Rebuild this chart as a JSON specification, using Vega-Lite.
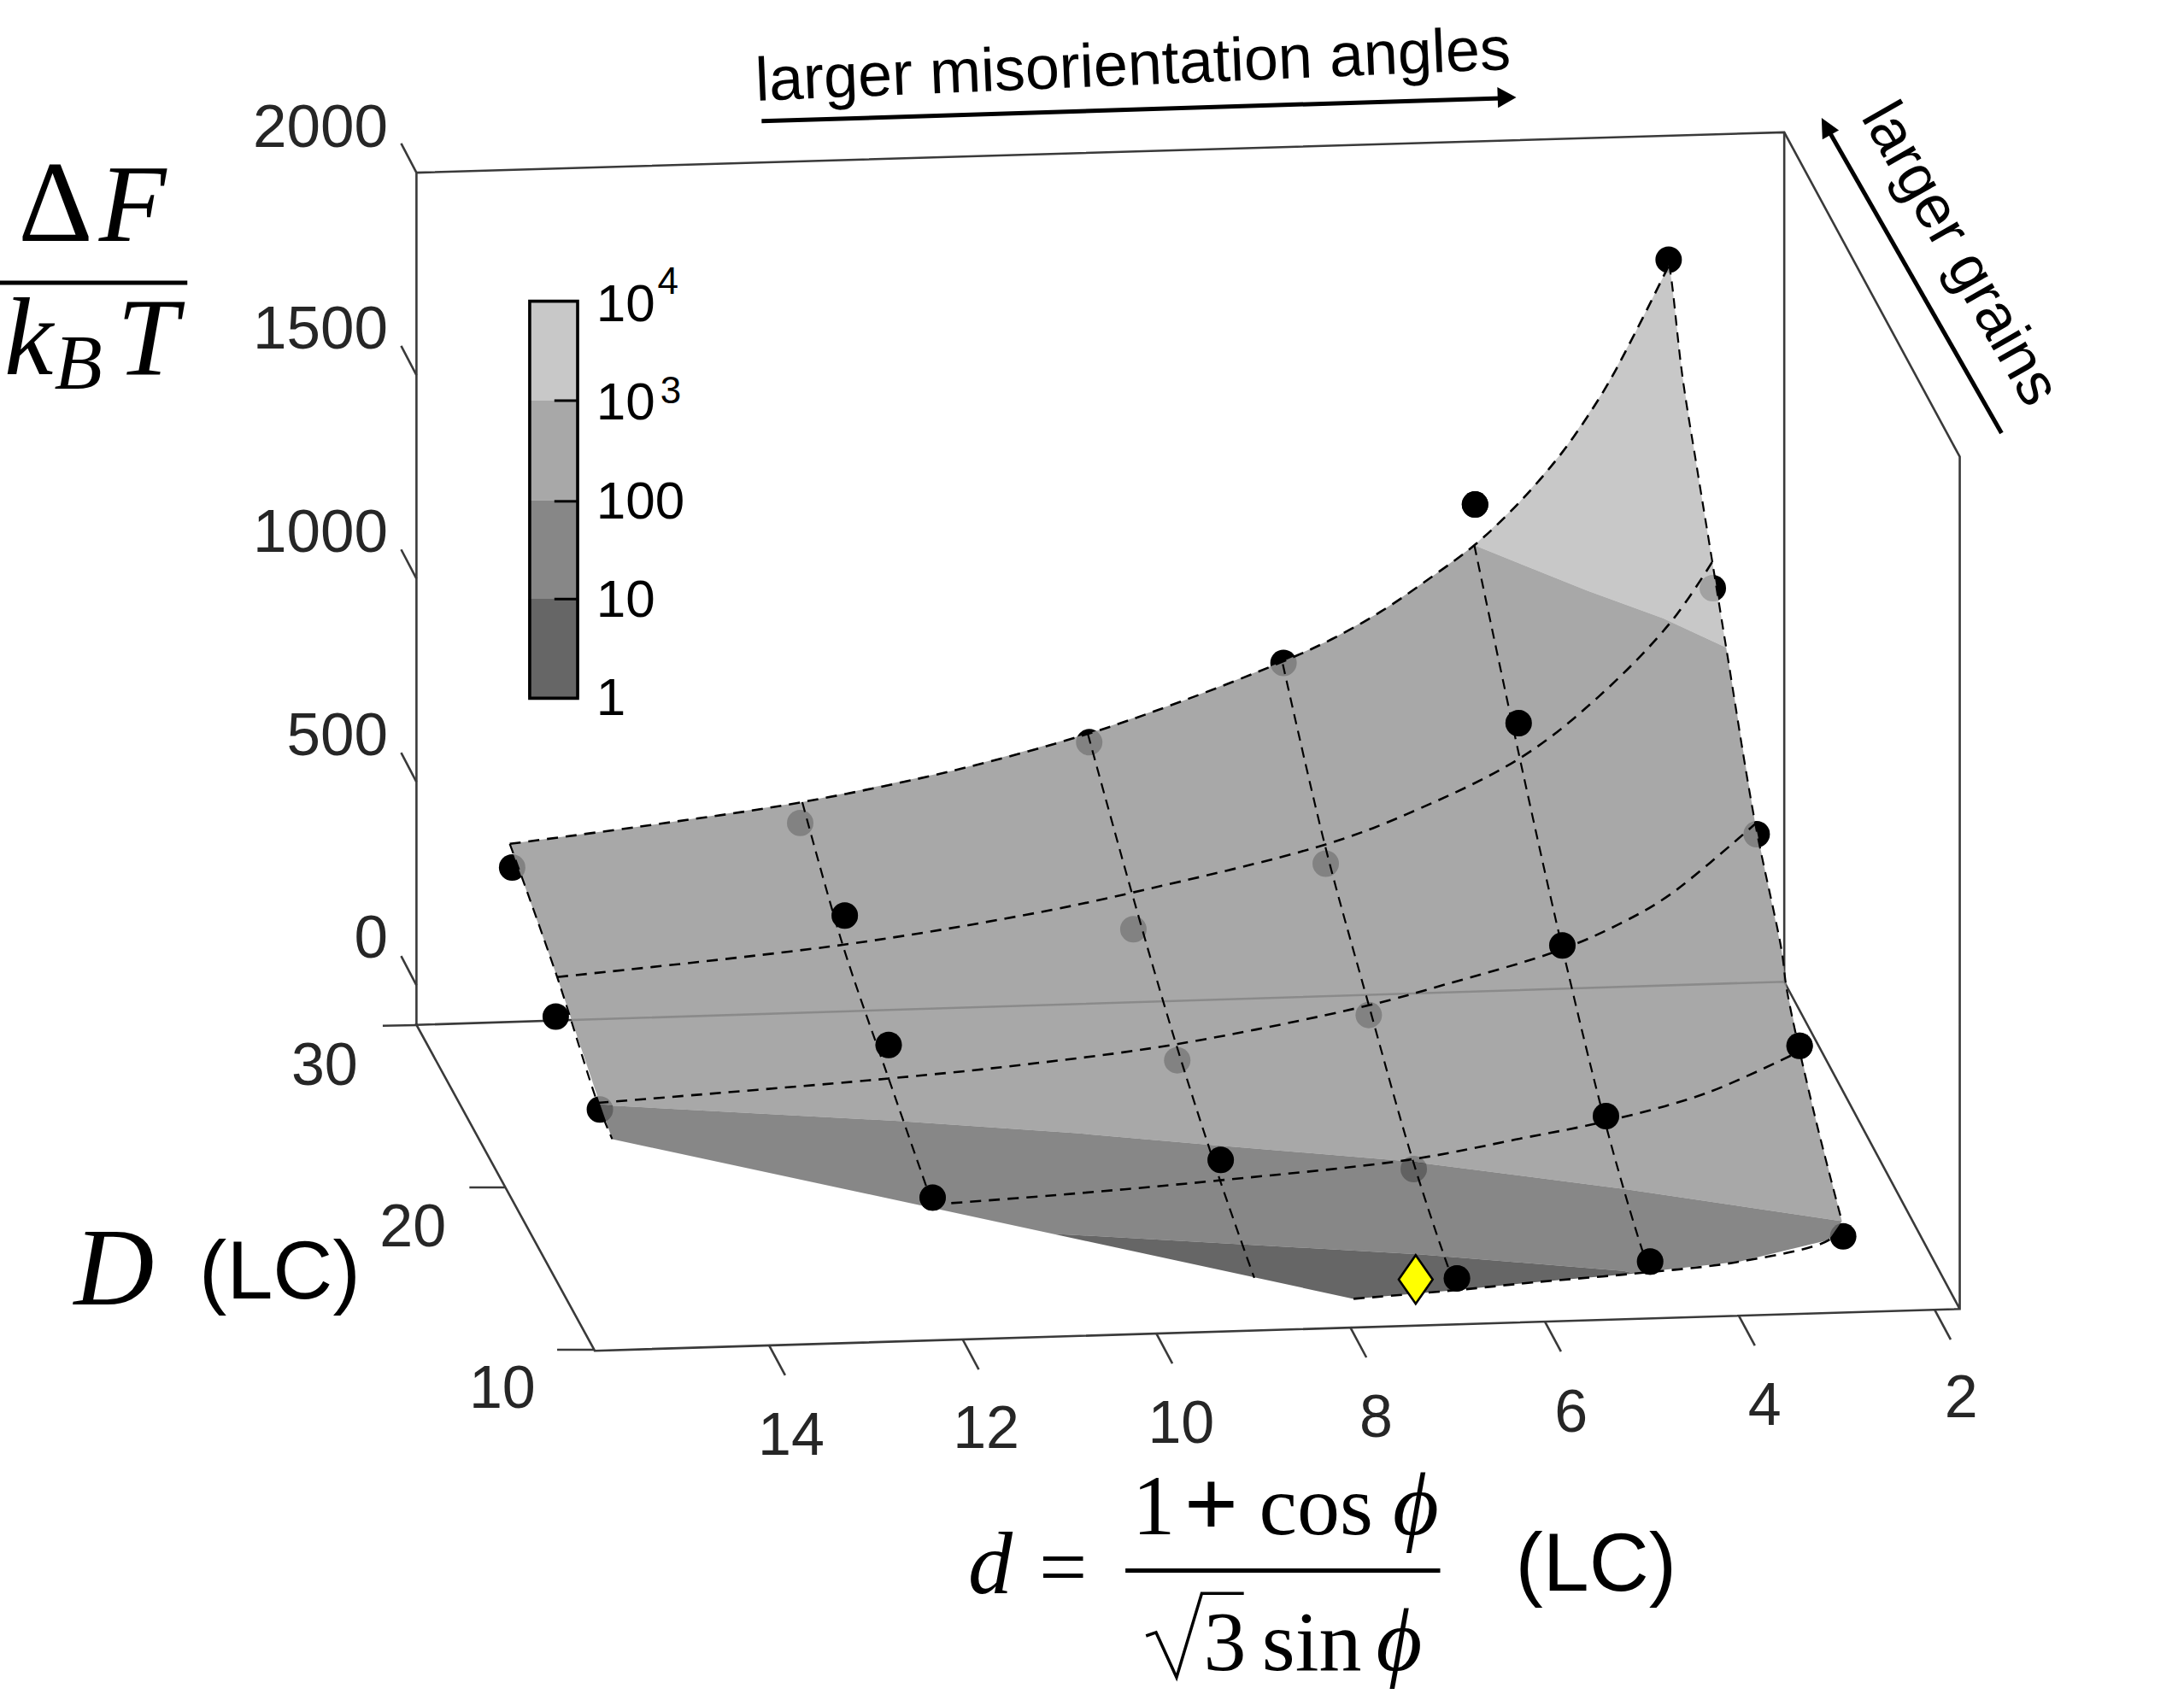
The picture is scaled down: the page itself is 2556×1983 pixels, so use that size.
{
"$schema":"https://vega.github.io/schema/vega-lite/v6.json",
"width":2556,"height":1983,"padding":0,"autosize":{"type":"none"},
"background":"white","config":{"view":{"stroke":null}},
"datasets":{
"axes":[
{"s":"box","i":0,"u":299,"v":736},{"s":"box","i":1,"u":299,"v":124},{"s":"box","i":2,"u":1281,"v":95},{"s":"box","i":3,"u":1407,"v":328},{"s":"box","i":4,"u":1407,"v":940},{"s":"box","i":5,"u":427,"v":970},{"s":"box","i":6,"u":299,"v":736},{"s":"box","i":7,"u":1281,"v":705},{"s":"box","i":8,"u":1407,"v":940},
{"s":"back","i":0,"u":1281,"v":95},{"s":"back","i":1,"u":1281,"v":705},
{"s":"z2000","i":0,"u":288,"v":103},{"s":"z2000","i":1,"u":299,"v":124},
{"s":"z1500","i":0,"u":288,"v":248.4},{"s":"z1500","i":1,"u":299,"v":269.4},
{"s":"z1000","i":0,"u":288,"v":394.6},{"s":"z1000","i":1,"u":299,"v":415.6},
{"s":"z500","i":0,"u":288,"v":540.6},{"s":"z500","i":1,"u":299,"v":561.6},
{"s":"z0","i":0,"u":288,"v":686.5},{"s":"z0","i":1,"u":299,"v":707.5},
{"s":"D30","i":0,"u":274.8,"v":736.6},{"s":"D30","i":1,"u":299.8,"v":736.2},
{"s":"D20","i":0,"u":337,"v":852.7},{"s":"D20","i":1,"u":362.5,"v":852.7},
{"s":"D10","i":0,"u":400,"v":969.3},{"s":"D10","i":1,"u":426.3,"v":969.3},
{"s":"d2","i":0,"u":1388.8,"v":940.2},{"s":"d2","i":1,"u":1400.5,"v":962},
{"s":"d4","i":0,"u":1248.2,"v":944.5},{"s":"d4","i":1,"u":1259.9,"v":966.3},
{"s":"d6","i":0,"u":1109,"v":948.8},{"s":"d6","i":1,"u":1120.7,"v":970.6},
{"s":"d8","i":0,"u":969.3,"v":953},{"s":"d8","i":1,"u":981,"v":974.8},
{"s":"d10","i":0,"u":830,"v":957.3},{"s":"d10","i":1,"u":841.7,"v":979.1},
{"s":"d12","i":0,"u":691,"v":961.6},{"s":"d12","i":1,"u":702.7,"v":983.4},
{"s":"d14","i":0,"u":552,"v":965.8},{"s":"d14","i":1,"u":563.7,"v":987.6}
],
"dots":[
{"u":367.7,"v":623,"side":"below"},{"u":574.5,"v":591,"side":"below"},{"u":782,"v":533,"side":"below"},{"u":921.5,"v":476,"side":"below"},{"u":1059,"v":362.3,"side":"above"},{"u":1198,"v":186.5,"side":"below"},
{"u":399,"v":730,"side":"below"},{"u":606.5,"v":657.5,"side":"above"},{"u":813.7,"v":667.3,"side":"below"},{"u":951.8,"v":620.2,"side":"below"},{"u":1090.3,"v":519.3,"side":"above"},{"u":1229.7,"v":422.4,"side":"below"},
{"u":430.7,"v":796.7,"side":"below"},{"u":638,"v":750.4,"side":"above"},{"u":845.2,"v":761.4,"side":"below"},{"u":982.7,"v":728.9,"side":"below"},{"u":1121.7,"v":679,"side":"above"},{"u":1261.2,"v":599,"side":"below"},
{"u":669.6,"v":860,"side":"above"},{"u":876.4,"v":833,"side":"above"},{"u":1015,"v":839.5,"side":"below"},{"u":1153,"v":801.5,"side":"above"},{"u":1292,"v":751,"side":"above"},
{"u":1046,"v":918,"side":"above"},{"u":1184.7,"v":905.9,"side":"above"},{"u":1323.3,"v":887.9,"side":"below"}
],
"bands":[
{"b":"c8","i":0,"u":1058.5,"v":391.6},{"b":"c8","i":1,"u":1090,"v":361.6},{"b":"c8","i":2,"u":1122,"v":324.3},{"b":"c8","i":3,"u":1151.6,"v":280.4},{"b":"c8","i":4,"u":1173.8,"v":239.3},{"b":"c8","i":5,"u":1194.5,"v":198},{"b":"c8","i":6,"u":1198.4,"v":190},{"b":"c8","i":7,"u":1200.4,"v":203.7},{"b":"c8","i":8,"u":1207.8,"v":269.5},{"b":"c8","i":9,"u":1218.2,"v":335.2},{"b":"c8","i":10,"u":1228.5,"v":398.2},{"b":"c8","i":11,"u":1239.3,"v":465},{"b":"c8","i":12,"u":1194,"v":444},{"b":"c8","i":13,"u":1139.3,"v":424},
{"b":"a8","i":0,"u":366,"v":606},{"b":"a8","i":1,"u":475,"v":591.4},{"b":"a8","i":2,"u":576,"v":576},{"b":"a8","i":3,"u":686,"v":553},{"b":"a8","i":4,"u":781,"v":527},{"b":"a8","i":5,"u":850,"v":503},{"b":"a8","i":6,"u":920,"v":475.5},{"b":"a8","i":7,"u":955.8,"v":459.2},{"b":"a8","i":8,"u":991.4,"v":439.2},{"b":"a8","i":9,"u":1029.8,"v":412.9},{"b":"a8","i":10,"u":1058.5,"v":391.6},{"b":"a8","i":11,"u":1139.3,"v":424},{"b":"a8","i":12,"u":1194,"v":444},{"b":"a8","i":13,"u":1239.3,"v":465},{"b":"a8","i":14,"u":1259.8,"v":589.4},{"b":"a8","i":15,"u":1279,"v":682},{"b":"a8","i":16,"u":1283,"v":711.6},{"b":"a8","i":17,"u":1302,"v":797.5},{"b":"a8","i":18,"u":1322.4,"v":877},{"b":"a8","i":19,"u":1165.7,"v":853.8},{"b":"a8","i":20,"u":1010,"v":833.8},{"b":"a8","i":21,"u":867.7,"v":822},{"b":"a8","i":22,"u":773,"v":813.8},{"b":"a8","i":23,"u":645,"v":805},{"b":"a8","i":24,"u":431,"v":793.5},{"b":"a8","i":25,"u":400,"v":701.6},
{"b":"88","i":0,"u":431,"v":793.5},{"b":"88","i":1,"u":645,"v":805},{"b":"88","i":2,"u":773,"v":813.8},{"b":"88","i":3,"u":867.7,"v":822},{"b":"88","i":4,"u":1010,"v":833.8},{"b":"88","i":5,"u":1165.7,"v":853.8},{"b":"88","i":6,"u":1322.4,"v":877},{"b":"88","i":7,"u":1313,"v":890.5},{"b":"88","i":8,"u":1249,"v":906},{"b":"88","i":9,"u":1184.7,"v":913},{"b":"88","i":10,"u":1173.7,"v":914.5},{"b":"88","i":11,"u":1165.7,"v":912.7},{"b":"88","i":12,"u":1018.3,"v":900.7},{"b":"88","i":13,"u":763.6,"v":886.4},{"b":"88","i":14,"u":757,"v":886.3},{"b":"88","i":15,"u":439.5,"v":818},
{"b":"66","i":0,"u":757,"v":886.3},{"b":"66","i":1,"u":763.6,"v":886.4},{"b":"66","i":2,"u":1018.3,"v":900.7},{"b":"66","i":3,"u":1165.7,"v":912.7},{"b":"66","i":4,"u":1173.7,"v":914.5},{"b":"66","i":5,"u":1100,"v":921},{"b":"66","i":6,"u":1045,"v":926.5},{"b":"66","i":7,"u":971.8,"v":932.7}
],
"mesh":[
{"s":"C1","i":0,"u":366,"v":606},{"s":"C1","i":1,"u":475,"v":591.4},{"s":"C1","i":2,"u":576,"v":576},{"s":"C1","i":3,"u":686,"v":553},{"s":"C1","i":4,"u":781,"v":527},{"s":"C1","i":5,"u":850,"v":503},{"s":"C1","i":6,"u":920,"v":475.5},{"s":"C1","i":7,"u":955.8,"v":459.2},{"s":"C1","i":8,"u":991.4,"v":439.2},{"s":"C1","i":9,"u":1029.8,"v":412.9},{"s":"C1","i":10,"u":1058.5,"v":391.6},{"s":"C1","i":11,"u":1090,"v":361.6},{"s":"C1","i":12,"u":1122,"v":324.3},{"s":"C1","i":13,"u":1151.6,"v":280.4},{"s":"C1","i":14,"u":1173.8,"v":239.3},{"s":"C1","i":15,"u":1194.5,"v":198},{"s":"C1","i":16,"u":1198.4,"v":190},
{"s":"C2","i":0,"u":400,"v":701.6},{"s":"C2","i":1,"u":605,"v":678.5},{"s":"C2","i":2,"u":736.2,"v":657},{"s":"C2","i":3,"u":812.9,"v":641},{"s":"C2","i":4,"u":951.4,"v":606.5},{"s":"C2","i":5,"u":1010.6,"v":584.4},{"s":"C2","i":6,"u":1091.4,"v":544.4},{"s":"C2","i":7,"u":1147.5,"v":500.5},{"s":"C2","i":8,"u":1199.6,"v":446.7},{"s":"C2","i":9,"u":1229.7,"v":402.9},
{"s":"C3","i":0,"u":429,"v":792},{"s":"C3","i":1,"u":638,"v":774.5},{"s":"C3","i":2,"u":736.2,"v":764.4},{"s":"C3","i":3,"u":844.4,"v":749.9},{"s":"C3","i":4,"u":980.8,"v":722.4},{"s":"C3","i":5,"u":1037.5,"v":707},{"s":"C3","i":6,"u":1119.7,"v":682.3},{"s":"C3","i":7,"u":1165.7,"v":662},{"s":"C3","i":8,"u":1199.6,"v":642},{"s":"C3","i":9,"u":1261.2,"v":590.7},
{"s":"C4","i":0,"u":669.6,"v":865},{"s":"C4","i":1,"u":773,"v":857},{"s":"C4","i":2,"u":875.9,"v":847.6},{"s":"C4","i":3,"u":1013.7,"v":832.5},{"s":"C4","i":4,"u":1092.3,"v":817.5},{"s":"C4","i":5,"u":1153.9,"v":805},{"s":"C4","i":6,"u":1225,"v":785},{"s":"C4","i":7,"u":1290,"v":756},
{"s":"C5","i":0,"u":971.8,"v":932.7},{"s":"C5","i":1,"u":1045,"v":926.5},{"s":"C5","i":2,"u":1100,"v":921},{"s":"C5","i":3,"u":1173.7,"v":914.5},{"s":"C5","i":4,"u":1249,"v":906},{"s":"C5","i":5,"u":1313,"v":890.5},{"s":"C5","i":6,"u":1322.4,"v":880},
{"s":"L1","i":0,"u":366,"v":606},{"s":"L1","i":1,"u":400,"v":701.6},{"s":"L1","i":2,"u":429,"v":792},{"s":"L1","i":3,"u":439.5,"v":818},
{"s":"L2","i":0,"u":576,"v":576},{"s":"L2","i":1,"u":605,"v":678.5},{"s":"L2","i":2,"u":638,"v":774.5},{"s":"L2","i":3,"u":669.6,"v":865},
{"s":"L3","i":0,"u":781,"v":527},{"s":"L3","i":1,"u":812.9,"v":642.2},{"s":"L3","i":2,"u":844.4,"v":749.9},{"s":"L3","i":3,"u":875.9,"v":847.6},{"s":"L3","i":4,"u":900.5,"v":917.7},
{"s":"L4","i":0,"u":921,"v":477},{"s":"L4","i":1,"u":951.5,"v":608},{"s":"L4","i":2,"u":980.8,"v":714.9},{"s":"L4","i":3,"u":1013.7,"v":831.3},{"s":"L4","i":4,"u":1038.9,"v":907.7},{"s":"L4","i":5,"u":1046,"v":926},
{"s":"L5","i":0,"u":1058.5,"v":391.6},{"s":"L5","i":1,"u":1090,"v":539.4},{"s":"L5","i":2,"u":1121.5,"v":680},{"s":"L5","i":3,"u":1153.4,"v":809.8},{"s":"L5","i":4,"u":1178.4,"v":895.7},{"s":"L5","i":5,"u":1184.7,"v":913},
{"s":"L6","i":0,"u":1198.4,"v":190},{"s":"L6","i":1,"u":1200.4,"v":203.7},{"s":"L6","i":2,"u":1207.8,"v":269.5},{"s":"L6","i":3,"u":1218.2,"v":335.2},{"s":"L6","i":4,"u":1228.5,"v":398.2},{"s":"L6","i":5,"u":1239.3,"v":465},{"s":"L6","i":6,"u":1259.8,"v":589.4},{"s":"L6","i":7,"u":1279,"v":682},{"s":"L6","i":8,"u":1283,"v":711.6},{"s":"L6","i":9,"u":1302,"v":797.5},{"s":"L6","i":10,"u":1322.4,"v":877}
],
"arrows":[
{"s":"a1","i":0,"u":546.8,"v":87},{"s":"a1","i":1,"u":1078,"v":70.5},
{"s":"a2","i":0,"u":1437,"v":311},{"s":"a2","i":1,"u":1313,"v":94}
],
"heads":[
{"s":"h1","i":0,"u":1088.6,"v":70},{"s":"h1","i":1,"u":1075,"v":62.5},{"s":"h1","i":2,"u":1075.5,"v":77.5},
{"s":"h2","i":0,"u":1307.8,"v":84.6},{"s":"h2","i":1,"u":1320.2,"v":93.6},{"s":"h2","i":2,"u":1308.4,"v":100.2}
],
"bar":[
{"k":"1e3-1e4","u":379.3,"u2":415.7,"v":217.4,"v2":287.7},
{"k":"100-1e3","u":379.3,"u2":415.7,"v":287.7,"v2":359.2},
{"k":"10-100","u":379.3,"u2":415.7,"v":359.2,"v2":430},
{"k":"1-10","u":379.3,"u2":415.7,"v":430,"v2":500.9}
],
"barticks":[
{"s":"t3","i":0,"u":398,"v":287.7},{"s":"t3","i":1,"u":414,"v":287.7},
{"s":"t2","i":0,"u":398,"v":360},{"s":"t2","i":1,"u":414,"v":360},
{"s":"t1","i":0,"u":398,"v":430.2},{"s":"t1","i":1,"u":414,"v":430.2}
],
"radical":[
{"i":0,"u":822.8,"v":1174.8},{"i":1,"u":830,"v":1172.3},{"i":2,"u":844.7,"v":1204.5},{"i":3,"u":862.8,"v":1144.2},{"i":4,"u":893,"v":1144.2}
],
"rules":[
{"s":"f1","i":0,"u":0,"v":203},{"s":"f1","i":1,"u":134.5,"v":203},
{"s":"f2","i":0,"u":808,"v":1127.8},{"s":"f2","i":1,"u":1034,"v":1127.8}
]
},
"encoding":{
"x":{"field":"u","type":"quantitative","scale":{"domain":[0,1568],"nice":false,"zero":false},"axis":null},
"y":{"field":"v","type":"quantitative","scale":{"domain":[1216.5,0],"nice":false,"zero":false},"axis":null}
},
"layer":[
{"data":{"name":"axes"},"mark":{"type":"line","stroke":"#3a3a3a","strokeWidth":2.6},"encoding":{"detail":{"field":"s"},"order":{"field":"i"}}},
{"data":{"name":"dots"},"mark":{"type":"circle","fill":"#000000","size":960,"opacity":1}},
{"data":{"name":"bands"},"transform":[{"filter":"datum.b=='c8'"}],"mark":{"type":"line","fill":"#bebebe","fillOpacity":0.85,"stroke":null},"encoding":{"order":{"field":"i"}}},
{"data":{"name":"bands"},"transform":[{"filter":"datum.b=='a8'"}],"mark":{"type":"line","fill":"#999999","fillOpacity":0.85,"stroke":null},"encoding":{"order":{"field":"i"}}},
{"data":{"name":"bands"},"transform":[{"filter":"datum.b=='88'"}],"mark":{"type":"line","fill":"#727272","fillOpacity":0.85,"stroke":null},"encoding":{"order":{"field":"i"}}},
{"data":{"name":"bands"},"transform":[{"filter":"datum.b=='66'"}],"mark":{"type":"line","fill":"#4b4b4b","fillOpacity":0.85,"stroke":null},"encoding":{"order":{"field":"i"}}},
{"data":{"name":"mesh"},"transform":[{"filter":"datum.s[0]=='C'"}],"mark":{"type":"line","interpolate":"catmull-rom","stroke":"#000000","strokeWidth":2.6,"strokeDash":[13,9]},"encoding":{"detail":{"field":"s"},"order":{"field":"i"}}},
{"data":{"name":"mesh"},"transform":[{"filter":"datum.s[0]=='L'"}],"mark":{"type":"line","interpolate":"catmull-rom","stroke":"#000000","strokeWidth":2.2,"strokeDash":[12,8]},"encoding":{"detail":{"field":"s"},"order":{"field":"i"}}},
{"data":{"name":"dots"},"transform":[{"filter":"datum.side=='above'"}],"mark":{"type":"circle","fill":"#000000","size":960,"opacity":1}},
{"data":{"values":[{"u":1016.4,"v":918.8}]},"mark":{"type":"point","shape":"M0,-1L0.7,0L0,1L-0.7,0Z","filled":true,"fill":"#ffff00","stroke":"#000000","strokeWidth":2.6,"opacity":1,"size":3226}},
{"data":{"name":"bar"},"mark":{"type":"rect","opacity":1},"encoding":{"x2":{"field":"u2"},"y2":{"field":"v2"},"fill":{"field":"k","type":"nominal","legend":null,"scale":{"domain":["1e3-1e4","100-1e3","10-100","1-10"],"range":["#c8c8c8","#a8a8a8","#878787","#666666"]}}}},
{"data":{"values":[{"u":380.3,"u2":414.7,"v":216.3,"v2":501.4}]},"mark":{"type":"rect","fillOpacity":0,"stroke":"#000000","strokeWidth":3.6},"encoding":{"x2":{"field":"u2"},"y2":{"field":"v2"}}},
{"data":{"name":"barticks"},"mark":{"type":"line","stroke":"#000000","strokeWidth":3},"encoding":{"detail":{"field":"s"},"order":{"field":"i"}}},
{"data":{"name":"arrows"},"mark":{"type":"line","stroke":"#000000","strokeWidth":5},"encoding":{"detail":{"field":"s"},"order":{"field":"i"}}},
{"data":{"name":"heads"},"transform":[{"filter":"datum.s=='h1'"}],"mark":{"type":"line","fill":"#000000","stroke":null},"encoding":{"order":{"field":"i"}}},
{"data":{"name":"heads"},"transform":[{"filter":"datum.s=='h2'"}],"mark":{"type":"line","fill":"#000000","stroke":null},"encoding":{"order":{"field":"i"}}},
{"data":{"name":"rules"},"mark":{"type":"line","stroke":"#000000","strokeWidth":5},"encoding":{"detail":{"field":"s"},"order":{"field":"i"}}},
{"data":{"name":"radical"},"mark":{"type":"line","stroke":"#000000","strokeWidth":3.5},"encoding":{"order":{"field":"i"}}},
{"data":{"values":[{"u":278.5,"v":105.6,"t":"2000"},{"u":278.5,"v":250.6,"t":"1500"},{"u":278.5,"v":396,"t":"1000"},{"u":278.5,"v":542,"t":"500"},{"u":278.5,"v":688,"t":"0"}]},"mark":{"type":"text","font":"Liberation Sans","fontSize":71,"fill":"#262626","align":"right","baseline":"alphabetic"},"encoding":{"text":{"field":"t"}}},
{"data":{"values":[{"u":233,"v":779,"t":"30"},{"u":296.4,"v":895,"t":"20"},{"u":360.6,"v":1011,"t":"10"},{"u":568,"v":1045,"t":"14"},{"u":708,"v":1040,"t":"12"},{"u":848,"v":1036,"t":"10"},{"u":988,"v":1032,"t":"8"},{"u":1128,"v":1028,"t":"6"},{"u":1267,"v":1023,"t":"4"},{"u":1408,"v":1018,"t":"2"}]},"mark":{"type":"text","font":"Liberation Sans","fontSize":70,"fill":"#262626","align":"center","baseline":"alphabetic"},"encoding":{"text":{"field":"t"}}},
{"data":{"values":[{"u":428,"v":230.8,"t":"10"},{"u":428,"v":301.4,"t":"10"},{"u":428,"v":372.3,"t":"100"},{"u":428,"v":443,"t":"10"},{"u":428,"v":513.6,"t":"1"}]},"mark":{"type":"text","font":"Liberation Sans","fontSize":62,"fill":"#000000","align":"left","baseline":"alphabetic"},"encoding":{"text":{"field":"t"}}},
{"data":{"values":[{"u":472,"v":211,"t":"4"},{"u":474,"v":289.4,"t":"3"}]},"mark":{"type":"text","font":"Liberation Sans","fontSize":44,"fill":"#000000","align":"left","baseline":"alphabetic"},"encoding":{"text":{"field":"t"}}},
{"data":{"values":[{"u":814,"v":61,"t":"larger misorientation angles"}]},"mark":{"type":"text","font":"Liberation Sans","fontSize":72,"fill":"#000000","align":"center","baseline":"alphabetic","angle":-2.4},"encoding":{"text":{"field":"t"}}},
{"data":{"values":[{"u":1395.6,"v":189,"t":"larger grains"}]},"mark":{"type":"text","font":"Liberation Sans","fontSize":71,"fill":"#000000","align":"center","baseline":"alphabetic","angle":60.3},"encoding":{"text":{"field":"t"}}},
{"data":{"values":[{"u":143,"v":932.5,"t":"(LC)"},{"u":1088,"v":1142,"t":"(LC)"}]},"mark":{"type":"text","font":"Liberation Sans","fontSize":97,"fill":"#000000","align":"left","baseline":"alphabetic"},"encoding":{"text":{"field":"t"}}},
{"data":{"values":[{"u":53,"v":936.6,"t":"D"}]},"mark":{"type":"text","font":"Liberation Serif","fontStyle":"italic","fontSize":130,"fill":"#000000","align":"left","baseline":"alphabetic"},"encoding":{"text":{"field":"t"}}},
{"data":{"values":[{"u":13,"v":173,"t":"Δ"}]},"mark":{"type":"text","font":"Liberation Serif","fontSize":136,"fill":"#000000","align":"left","baseline":"alphabetic"},"encoding":{"text":{"field":"t"}}},
{"data":{"values":[{"u":71,"v":173,"t":"F"},{"u":3,"v":269,"t":"k"},{"u":84,"v":269,"t":"T"}]},"mark":{"type":"text","font":"Liberation Serif","fontStyle":"italic","fontSize":129,"fill":"#000000","align":"left","baseline":"alphabetic"},"encoding":{"text":{"field":"t"}}},
{"data":{"values":[{"u":39,"v":279,"t":"B"}]},"mark":{"type":"text","font":"Liberation Serif","fontStyle":"italic","fontSize":92,"fill":"#000000","align":"left","baseline":"alphabetic"},"encoding":{"text":{"field":"t"}}},
{"data":{"values":[{"u":695,"v":1144,"t":"d"},{"u":1000,"v":1101.6,"t":"ϕ"},{"u":988,"v":1199.4,"t":"ϕ"}]},"mark":{"type":"text","font":"Liberation Serif","fontStyle":"italic","fontSize":104,"fill":"#000000","align":"left","baseline":"alphabetic"},"encoding":{"text":{"field":"t"}}},
{"data":{"values":[{"u":746,"v":1146,"t":"="},{"u":813,"v":1101.6,"t":"1"},{"u":904,"v":1101.6,"t":"cos"},{"u":864,"v":1199.4,"t":"3"},{"u":906,"v":1199.4,"t":"sin"}]},"mark":{"type":"text","font":"Liberation Serif","fontSize":100,"fill":"#000000","align":"left","baseline":"alphabetic"},"encoding":{"text":{"field":"t"}}},
{"data":{"values":[{"u":850,"v":1103,"t":"+"}]},"mark":{"type":"text","font":"Liberation Serif","fontSize":112,"fontWeight":"bold","fill":"#000000","align":"left","baseline":"alphabetic"},"encoding":{"text":{"field":"t"}}}
]
}
